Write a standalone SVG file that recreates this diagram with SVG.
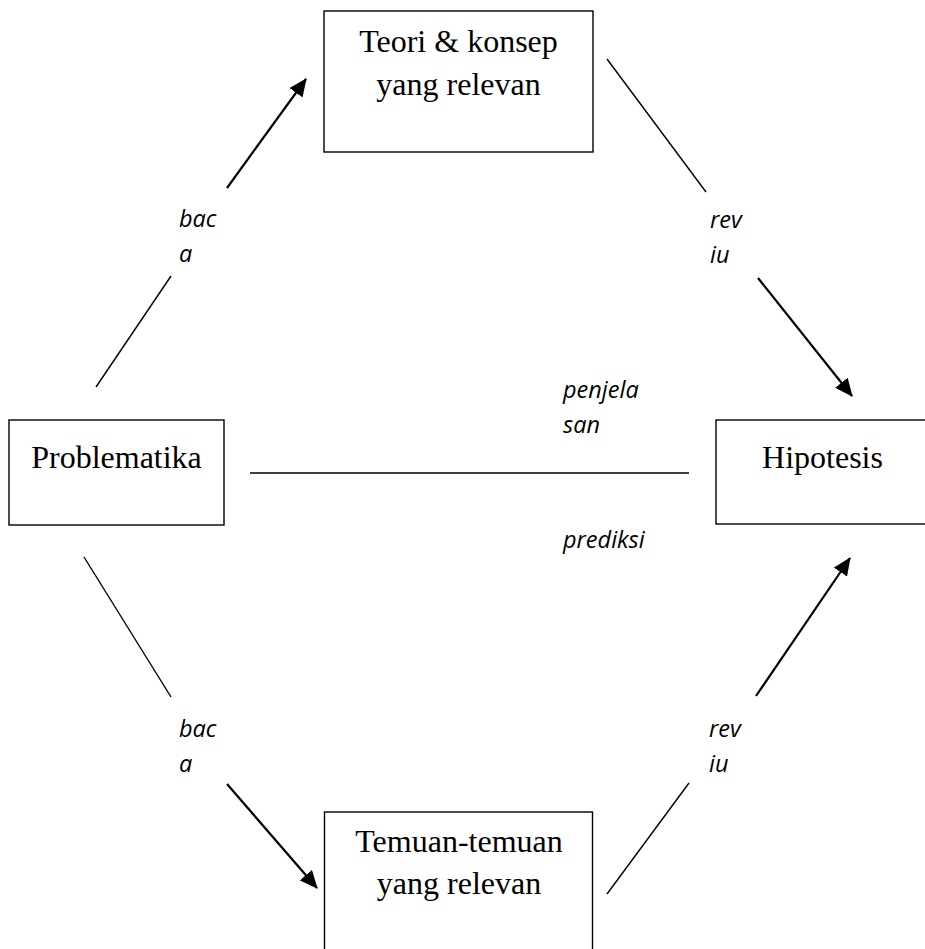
<svg xmlns="http://www.w3.org/2000/svg" width="925" height="949" viewBox="0 0 925 949">
<style>
.box{fill:#fff;stroke:#000;stroke-width:1.4}
.nt{font-family:"Liberation Serif","Times New Roman",serif;font-size:32px;fill:#000;text-anchor:middle}
.lb{font-family:"Open Sans","Noto Sans",sans-serif;font-style:italic;font-size:23.5px;fill:#000}
.ln{stroke:#000;stroke-width:1.4;fill:none}
.ar{stroke:#000;stroke-width:2.2;fill:none}
</style>
<defs>
<marker id="ah" markerUnits="userSpaceOnUse" viewBox="0 0 18 16" refX="17" refY="8" markerWidth="18" markerHeight="16" orient="auto">
<path d="M0,0 L18,8 L0,16 Z" fill="#000"/>
</marker>
</defs>
<rect width="925" height="949" fill="#fff"/>
<g id="teori">
<rect class="box" x="324" y="11" width="269" height="141"/>
<text class="nt" x="458.5" y="52">Teori &amp; konsep</text>
<text class="nt" x="458.5" y="95">yang relevan</text>
</g>
<g id="problematika">
<rect class="box" x="9" y="420" width="215" height="105"/>
<text class="nt" x="116.5" y="468">Problematika</text>
</g>
<g id="hipotesis">
<rect class="box" x="716" y="420" width="213" height="104"/>
<text class="nt" x="822.5" y="468">Hipotesis</text>
</g>
<g id="temuan">
<rect class="box" x="324.5" y="812" width="268" height="145"/>
<text class="nt" x="459" y="852">Temuan-temuan</text>
<text class="nt" x="459" y="894">yang relevan</text>
</g>
<g id="connectors">
<line class="ln" x1="96" y1="387" x2="171" y2="276"/>
<line class="ar" x1="227" y1="188" x2="306" y2="79" marker-end="url(#ah)"/>
<line class="ln" x1="607" y1="59" x2="706" y2="192"/>
<line class="ar" x1="758" y1="278" x2="852" y2="396" marker-end="url(#ah)"/>
<line class="ln" x1="250" y1="473" x2="689" y2="473"/>
<line class="ln" x1="84" y1="557" x2="171" y2="697"/>
<line class="ar" x1="227" y1="784" x2="317" y2="888" marker-end="url(#ah)"/>
<line class="ln" x1="607" y1="894" x2="689" y2="783"/>
<line class="ar" x1="756" y1="696" x2="850" y2="558" marker-end="url(#ah)"/>
</g>
<g id="labels">
<text class="lb" x="179" y="227">bac</text>
<text class="lb" x="179" y="262">a</text>
<text class="lb" x="710" y="228">rev</text>
<text class="lb" x="710" y="263">iu</text>
<text class="lb" x="563" y="398">penjela</text>
<text class="lb" x="563" y="433">san</text>
<text class="lb" x="563" y="548">prediksi</text>
<text class="lb" x="179" y="737">bac</text>
<text class="lb" x="179" y="772">a</text>
<text class="lb" x="709" y="737">rev</text>
<text class="lb" x="709" y="772">iu</text>
</g>
</svg>
